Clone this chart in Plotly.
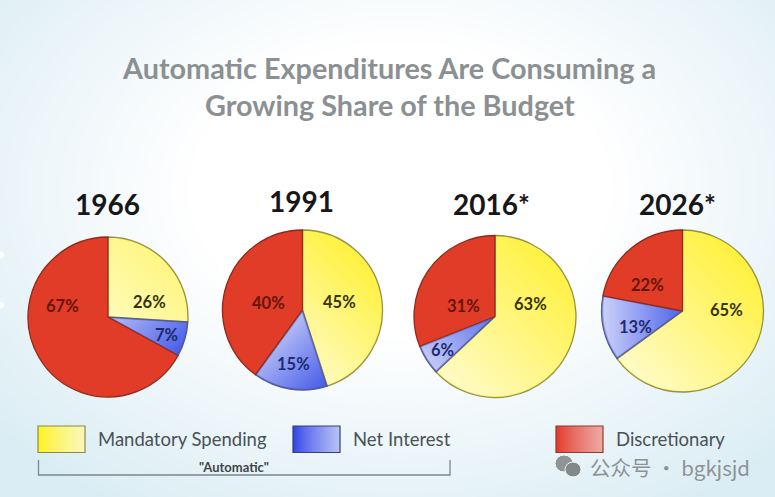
import base64, struct, zlib
import numpy as np
import plotly.graph_objects as go

W, H = 775, 497

# ---- data ----
years = ["1966", "1991", "2016*", "2026*"]
categories = ["Mandatory Spending", "Net Interest", "Discretionary"]
mandatory = [26, 45, 63, 65]
net_interest = [7, 15, 6, 13]
discretionary = [67, 40, 31, 22]
title_lines = ["Automatic Expenditures Are Consuming a", "Growing Share of the Budget"]
bracket_label = '"Automatic"'
watermark = "公众号 · bgkjsjd"

# ---- layout (pixels) ----
centers = [(108, 317), (302.5, 310), (495, 316.5), (682.5, 311)]
radii = [80, 80, 81, 81]
year_pos = [(107, 204), (301, 201), (491, 204), (677, 204)]
label_pos = [
    [(149, 302), (166, 335), (63, 306)],
    [(339, 302), (293, 364), (268, 303)],
    [(530, 304), (442, 350), (463, 306)],
    [(726, 310), (635, 327), (647, 285)],
]
label_colors = ["#35340f", "#1d2a70", "#661509"]
fills = ["#FFF02A", "#3F55E8", "#E03C28"]
edges = ["#94904e", "#565c86", "#8e2a1c"]
# screen direction in which each tinted slice gets more saturated
blue_dirs = [(1, 1), (1, 1), (1, -1), (1, 0)]
yellow_alpha = [(0.68, 0.42), (0.70, 0.10), (0.74, 0.12), (0.74, 0.10)]
blue_alpha = [(0.62, 0.05), (0.62, 0.05), (0.70, 0.18), (0.74, 0.10)]


def px(x):
    return x / W


def py(y):
    return 1 - y / H


def png_uri(rgba):
    h, w, _ = rgba.shape
    raw = b"".join(b"\x00" + rgba[i].tobytes() for i in range(h))

    def chunk(tag, data):
        body = tag + data
        return struct.pack(">I", len(data)) + body + struct.pack(">I", zlib.crc32(body) & 0xFFFFFFFF)

    blob = (b"\x89PNG\r\n\x1a\n" + chunk(b"IHDR", struct.pack(">IIBBBBB", w, h, 8, 6, 0, 0, 0))
            + chunk(b"IDAT", zlib.compress(raw, 9)) + chunk(b"IEND", b""))
    return "data:image/png;base64," + base64.b64encode(blob).decode()


def background():
    yy, xx = np.mgrid[0:H, 0:W]
    d = np.sqrt(((xx - 400) / 470.0) ** 2 + ((yy - 190) / 330.0) ** 2)
    t = np.clip((d - 0.45) / 0.7, 0, 1)[..., None]
    white = np.array([255, 255, 255])
    tint = np.array([218, 237, 244])
    rgb = white * (1 - t) + tint * t
    a = np.full((H, W, 1), 255.0)
    return np.concatenate([rgb, a], axis=2).astype(np.uint8)


def pie_overlay(vals, R, yellow_a, blue_a, blue_dir):
    """White veil that fades across the two tinted slices, giving their gradient."""
    S = int(2 * R * 2)
    yy, xx = np.mgrid[0:S, 0:S]
    u = (xx + 0.5) / S * 2 - 1
    v = (yy + 0.5) / S * 2 - 1
    r = np.hypot(u, v)
    theta = np.mod(np.arctan2(u, -v), 2 * np.pi) / (2 * np.pi) * 100
    total = sum(vals)
    b1 = vals[0] * 100 / total
    b2 = (vals[0] + vals[1]) * 100 / total
    alpha = np.zeros((S, S))
    for lo, hi, (a0, a1), d in [(0, b1, yellow_a, (1, -1)), (b1, b2, blue_a, blue_dir)]:
        mask = (theta >= lo) & (theta < hi) & (r < 1)
        proj = u * d[0] + v * d[1]
        pmin, pmax = proj[mask].min(), proj[mask].max()
        t = (proj - pmin) / (pmax - pmin)
        alpha[mask] = (a0 + (a1 - a0) * t)[mask]
    # leave the outlines untouched
    rim = np.clip((1 - r) * R - 0.6, 0, 1)
    gap = np.minimum.reduce([np.abs(theta - b) for b in (0, b1, b2, 100)]) / 100 * 2 * np.pi * r * R
    alpha *= rim * np.clip(gap - 0.4, 0, 1)
    out = np.zeros((S, S, 4), dtype=np.uint8)
    out[..., :3] = 255
    out[..., 3] = (alpha * 255).astype(np.uint8)
    return out


def swatch(rgb_from, rgb_to, w=47, h=26):
    t = np.linspace(0, 1, w)[None, :, None] ** 0.8
    rgb = np.array(rgb_from) * (1 - t) + np.array(rgb_to) * t
    rgb = np.repeat(rgb, h, axis=0)
    a = np.full((h, w, 1), 255.0)
    return np.concatenate([rgb, a], axis=2).astype(np.uint8)


fig = go.Figure()
images = [dict(source=png_uri(background()), xref="paper", yref="paper", x=0, y=1, sizex=1, sizey=1,
               sizing="stretch", xanchor="left", yanchor="top", layer="below")]

for i, year in enumerate(years):
    vals = [mandatory[i], net_interest[i], discretionary[i]]
    cx, cy = centers[i]
    R = radii[i]
    fig.add_trace(go.Pie(
        labels=categories, values=vals, sort=False, direction="clockwise", rotation=0,
        textinfo="none", hoverinfo="label+percent", showlegend=False,
        domain=dict(x=[px(cx - R), px(cx + R)], y=[py(cy + R), py(cy - R)]),
        marker=dict(colors=fills, line=dict(color=edges, width=1.3)),
    ))
    images.append(dict(source=png_uri(pie_overlay(vals, R, yellow_alpha[i], blue_alpha[i], blue_dirs[i])),
                       xref="paper", yref="paper", x=px(cx - R), y=py(cy - R),
                       sizex=2 * R / W, sizey=2 * R / H, sizing="stretch",
                       xanchor="left", yanchor="top", layer="above"))

annotations = []


def note(x, y, text, size, color, font="Lato", bold=False, anchor="center"):
    if bold:
        text = f"<b>{text}</b>"
    annotations.append(dict(x=px(x), y=py(y), xref="paper", yref="paper", text=text, showarrow=False,
                            xanchor=anchor, yanchor="middle", align="center",
                            font=dict(family=font, size=size, color=color)))


note(388.5, 68, title_lines[0], 28.8, "#8b9093", bold=True)
note(389.5, 105, title_lines[1], 28.8, "#8b9093", bold=True)

for i, year in enumerate(years):
    note(*year_pos[i], year, 28, "#17171a", bold=True)
    for j, v in enumerate((mandatory[i], net_interest[i], discretionary[i])):
        note(*label_pos[i][j], f"{v}%", 16.5, label_colors[j], bold=True)

# legend
sw_x = [38, 293, 556]
sw_y = 426
text_x = [98, 353, 616]
sw_cols = [((255, 242, 30), (250, 248, 190)), ((50, 65, 235), (185, 195, 245)), ((228, 55, 40), (238, 170, 165))]
sw_edge = ["#8d8a45", "#3a3f70", "#8e3a30"]
shapes = []
for i, name in enumerate(categories):
    images.append(dict(source=png_uri(swatch(*sw_cols[i])), xref="paper", yref="paper", x=px(sw_x[i]), y=py(sw_y),
                       sizex=47 / W, sizey=26.5 / H, sizing="stretch", xanchor="left", yanchor="top", layer="above"))
    shapes.append(dict(type="rect", xref="paper", yref="paper", x0=px(sw_x[i]), x1=px(sw_x[i] + 47),
                       y0=py(sw_y), y1=py(sw_y + 26.5), line=dict(color=sw_edge[i], width=1.2),
                       fillcolor="rgba(0,0,0,0)"))
    note(text_x[i] - 2, 439, name, 18.5, "#4a5157", anchor="left")

# "Automatic" bracket
shapes.append(dict(type="path", xref="paper", yref="paper",
                   path=f"M {px(38.5)} {py(460)} L {px(38.5)} {py(475)} L {px(450)} {py(475)} L {px(450)} {py(460)}",
                   line=dict(color="#7c868c", width=1.3)))
note(234, 466.5, bracket_label, 13, "#3f4548", bold=True)

# watermark
note(588, 467, watermark, 20.5, "#8d9296", font="Noto Sans CJK SC", anchor="left")
for (x0, y0, x1, y1, c) in [(555, 455, 573, 472, "#8f9497"), (565, 462, 581, 477, "#83888b")]:
    shapes.append(dict(type="circle", xref="paper", yref="paper", x0=px(x0), x1=px(x1), y0=py(y0), y1=py(y1),
                       fillcolor=c, line=dict(color="#f2f8fa", width=1)))

# small white marks at the left edge
for yc in (255, 305):
    shapes.append(dict(type="circle", xref="paper", yref="paper", x0=px(-3), x1=px(4), y0=py(yc - 3.5),
                       y1=py(yc + 3.5), fillcolor="#ffffff", line=dict(width=0)))

fig.update_layout(width=W, height=H, margin=dict(l=0, r=0, t=0, b=0), paper_bgcolor="#ffffff",
                  images=images, annotations=annotations, shapes=shapes, showlegend=False)
fig.write_html("out.html", config=dict(displayModeBar=False),
               post_script="document.body.style.margin='0';document.body.style.overflow='hidden';")
